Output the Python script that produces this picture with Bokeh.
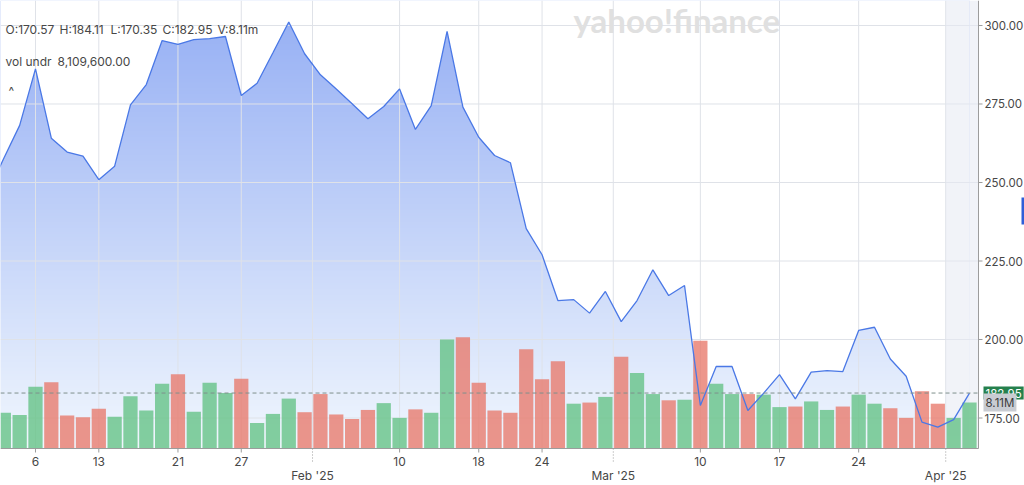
import numpy as np
from bokeh.plotting import figure
from bokeh.models import Range1d, Label
from bokeh.core.properties import value
from bokeh.embed import file_html
from bokeh.resources import INLINE

# ---------------- data ----------------
dates = [
    "2025-01-02", "2025-01-03", "2025-01-06", "2025-01-07", "2025-01-08", "2025-01-10",
    "2025-01-13", "2025-01-14", "2025-01-15", "2025-01-16", "2025-01-17", "2025-01-21",
    "2025-01-22", "2025-01-23", "2025-01-24", "2025-01-27", "2025-01-28", "2025-01-29",
    "2025-01-30", "2025-01-31", "2025-02-03", "2025-02-04", "2025-02-05", "2025-02-06",
    "2025-02-07", "2025-02-10", "2025-02-11", "2025-02-12", "2025-02-13", "2025-02-14",
    "2025-02-18", "2025-02-19", "2025-02-20", "2025-02-21", "2025-02-24", "2025-02-25",
    "2025-02-26", "2025-02-27", "2025-02-28", "2025-03-03", "2025-03-04", "2025-03-05",
    "2025-03-06", "2025-03-07", "2025-03-10", "2025-03-11", "2025-03-12", "2025-03-13",
    "2025-03-14", "2025-03-17", "2025-03-18", "2025-03-19", "2025-03-20", "2025-03-21",
    "2025-03-24", "2025-03-25", "2025-03-26", "2025-03-27", "2025-03-28", "2025-03-31",
    "2025-04-01", "2025-04-02",
]
close = [
    257.7, 268.2, 286.2, 264.1, 259.7, 258.4,
    250.9, 255.2, 274.7, 281.2, 295.2, 294.0,
    295.5, 295.8, 296.5, 277.7, 281.6, 291.3,
    301.1, 291.0, 284.3, 279.8, 275.1, 270.3,
    274.2, 279.8, 266.9, 274.5, 298.1, 274.0,
    264.4, 258.6, 256.3, 235.3, 227.0, 212.4,
    212.7, 208.4, 215.3, 205.7, 212.4, 222.2,
    214.0, 217.2, 179.0, 191.4, 191.4, 177.4,
    182.9, 188.8, 181.1, 189.6, 190.1, 189.8,
    202.9, 203.9, 193.8, 188.3, 173.7, 172.1,
    174.5, 182.95,
]
volume_m = [
    6.3, 5.9, 10.9, 11.7, 5.8, 5.5,
    7.0, 5.6, 9.2, 6.7, 11.4, 13.1,
    6.5, 11.6, 9.8, 12.3, 4.5, 6.1,
    8.8, 6.4, 9.6, 6.0, 5.2, 6.8,
    8.0, 5.4, 6.9, 6.3, 19.2, 19.6,
    11.6, 6.7, 6.3, 17.5, 12.2, 15.4,
    7.9, 8.1, 9.1, 16.2, 13.3, 9.6,
    8.5, 8.6, 19.0, 11.4, 9.6, 9.6,
    9.5, 7.3, 7.4, 8.3, 6.8, 7.4,
    9.5, 7.9, 7.1, 5.4, 10.1, 7.9,
    5.4, 8.11,
]
direction = [
    "up", "up", "up", "down", "down", "down",
    "down", "up", "up", "up", "up", "down",
    "up", "up", "up", "down", "up", "up",
    "up", "down", "down", "down", "down", "down",
    "up", "up", "down", "up", "up", "down",
    "down", "down", "down", "down", "down", "down",
    "up", "down", "up", "down", "up", "up",
    "down", "up", "down", "up", "up", "down",
    "up", "up", "down", "up", "up", "down",
    "up", "up", "down", "down", "down", "down",
    "up", "up",
]
prev_close = 247.0   # 2024-12-31, just left of the view

day_tick_dates = ["2025-01-06", "2025-01-13", "2025-01-21", "2025-01-27", "2025-02-10",
                  "2025-02-18", "2025-02-24", "2025-03-10", "2025-03-17", "2025-03-24"]
day_tick_labels = ["6", "13", "21", "27", "10", "18", "24", "10", "17", "24"]
month_labels = ["Feb '25", "Mar '25", "Apr '25"]
price_ticks = [175, 200, 225, 250, 275, 300]

last_ohlc = ["O:170.57", "H:184.11", "L:170.35", "C:182.95", "V:8.11m"]
vol_text = ["vol undr", "8,109,600.00"]
last_close = 182.95
last_vol = 8.11
last_vol_label = "8.11M"

# ---------------- derived positions ----------------
n = len(dates)
xs = list(range(n))
pos = {d: i for i, d in enumerate(dates)}
day_pos = [pos[d] for d in day_tick_dates]
month_pos = [i - 0.5 for i in range(1, n) if dates[i][5:7] != dates[i - 1][5:7]]

W, H = 1024, 485          # whole canvas is the frame; axes are drawn by hand
DW, DH = 978, 448         # data area (price/volume panel)
X0, XE = -0.21, 61.57     # x at data-area left/right edge
P0, P1 = 165.29, 307.96   # price at data-area bottom/top
VTOP = 79.0               # volume (millions) at data-area top

PPX = DW / (XE - X0)
PPY = DH / (P1 - P0)
PPV = DH / VTOP
X1 = X0 + W / PPX
PB = P1 - H / PPY
VB = VTOP - H / PPV


def xd(px):
    return X0 + px / PPX


def yd(py):
    return P1 - py / PPY


FONT = value("Inter")
TXT = "#474747"
AX = "#9c9c9c"
GRID = "#dfe2e8"

p = figure(frame_width=W, frame_height=H, x_range=Range1d(X0, X1), y_range=Range1d(PB, P1),
           x_axis_location=None, y_axis_location=None,
           output_backend="svg", toolbar_location=None,
           min_border_left=0, min_border_top=0, min_border_right=0, min_border_bottom=0,
           background_fill_color="white", border_fill_color="white")
p.outline_line_color = None
p.xgrid.visible = False
p.ygrid.visible = False
p.extra_y_ranges = {"vol": Range1d(VB, VTOP)}

# gradient fill under the price line: vertical gradient image + white mask above the line
N = 300
top_c = np.array([148, 174, 244], dtype=float)
bot_c = np.array([241, 247, 254], dtype=float)
img = np.empty((N, 2), dtype=np.uint32)
view = img.view(dtype=np.uint8).reshape((N, 2, 4))
for r in range(N):
    t = r / (N - 1)
    c = bot_c * (1 - t) + top_c * t
    view[r, :, 0] = int(c[0])
    view[r, :, 1] = int(c[1])
    view[r, :, 2] = int(c[2])
    view[r, :, 3] = 255
px_all = [-1] + xs
price_all = [prev_close] + close
p.image_rgba(image=[img], x=-1, y=P0, dw=n, dh=P1 - P0, level="image")
p.varea(x=px_all, y1=price_all, y2=P1 + 10, fill_color="white", level="image")

# grid lines
vgrid = sorted(day_pos + month_pos)
p.segment(x0=vgrid, x1=vgrid, y0=P0, y1=P1, line_color=GRID, line_width=1, level="underlay")
p.segment(x0=X0, x1=XE, y0=price_ticks, y1=price_ticks, line_color=GRID, line_width=1,
          level="underlay")

# current-month shading
p.quad(left=month_pos[-1], right=XE, bottom=P0, top=P1, fill_color="#e6eaf3",
       fill_alpha=0.55, line_color=None, level="underlay")

# volume bars
colors = ["#63c184" if d == "up" else "#e8786a" for d in direction]
p.vbar(x=xs, top=volume_m, bottom=0, width=0.9, fill_color=colors, fill_alpha=0.78,
       line_color=None, y_range_name="vol")

# price line
p.line(px_all, price_all, line_color="#4a78e6", line_width=1.3)

# last price dashed line
p.segment(x0=X0, x1=XE, y0=last_close, y1=last_close, line_color="#7f8f8c",
          line_dash="4 3", line_width=1)

# ---- hand-drawn axes ----
p.segment(x0=XE, x1=XE, y0=P0, y1=P1, line_color=AX, line_width=1)
p.segment(x0=X0, x1=XE, y0=P0, y1=P0, line_color=AX, line_width=1)
# right price axis
p.segment(x0=XE, x1=XE + 4 / PPX, y0=price_ticks, y1=price_ticks, line_color=AX)
p.text(x=XE + 6 / PPX, y=price_ticks, text=[f"{v:.2f}" for v in price_ticks],
       text_font=FONT, text_font_size="11.5px", text_color=TXT,
       text_baseline="middle", text_align="left")
# bottom day axis
p.segment(x0=day_pos, x1=day_pos, y0=P0, y1=P0 - 4 / PPY, line_color=AX)
p.text(x=day_pos, y=yd(461), text=day_tick_labels, text_font=FONT, text_font_size="12px",
       text_color=TXT, text_baseline="middle", text_align="center")
# month axis
p.segment(x0=month_pos, x1=month_pos, y0=P0, y1=yd(463), line_color=AX, line_dash="1 2")
p.text(x=month_pos, y=yd(475), text=month_labels, text_font=FONT, text_font_size="12px",
       text_color=TXT, text_baseline="middle", text_align="center")

# header texts
for t, px in zip(last_ohlc, [5, 59, 110, 162, 217]):
    p.add_layout(Label(x=xd(px), y=yd(29), text=t, text_font="Inter", text_font_size="12px",
                       text_color=TXT, text_baseline="middle", text_align="left"))
for t, px in zip(vol_text, [5, 57]):
    p.add_layout(Label(x=xd(px), y=yd(61), text=t, text_font="Inter", text_font_size="12px",
                       text_color=TXT, text_baseline="middle", text_align="left"))
p.add_layout(Label(x=xd(8), y=yd(90), text="^", text_font="Inter", text_font_size="12px",
                   text_color=TXT, text_baseline="middle", text_align="left"))

# watermark
p.add_layout(Label(x=xd(573), y=yd(19), text="yahoo!finance", text_font="Lato",
                   text_font_style="bold", text_font_size="33px", text_color="#e0e0e0",
                   text_baseline="middle", text_align="left"))

# right-side price / volume tags
p.add_layout(Label(x=XE, y=last_close, x_offset=5, text=f"{last_close:.2f}",
                   text_font="Inter", text_font_size="11.5px", text_color="white",
                   background_fill_color="#25804d", text_baseline="middle",
                   text_align="left", padding=2))
p.add_layout(Label(x=XE, y=last_vol, x_offset=5, y_range_name="vol", text=last_vol_label,
                   text_font="Inter", text_font_size="11.5px", text_color="#3c3c3c",
                   background_fill_color="#c9ccd2", text_baseline="middle",
                   text_align="left", padding=2))
p.quad(left=xd(1021), right=X1, bottom=yd(224), top=yd(197), fill_color="#2f5fd8",
       line_color=None)

open("out.html", "w").write(file_html(p, INLINE))
